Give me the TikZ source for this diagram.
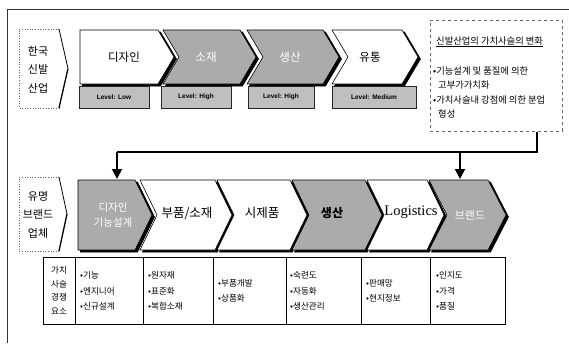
\documentclass[tikz,border=0pt]{standalone}
\usepackage{fontspec}
\setmainfont{Liberation Serif}
\newfontfamily\kr{Noto Sans CJK KR}
\newfontfamily\lvfont{Liberation Sans}
\usetikzlibrary{arrows.meta}
\newcommand\chevF[6]{%
  \pgfmathsetmacro\chvm{(#4+#5)/2}%
  \path[#6] (#1,#4) -- (#2,#4) -- (#3,\chvm) -- (#2,#5) -- (#1,#5) -- cycle;}
\newcommand\chevN[6]{%
  \pgfmathsetmacro\chvm{(#4+#5)/2}\pgfmathsetmacro\chvn{#1+#3-#2}%
  \path[#6] (#1,#4) -- (#2,#4) -- (#3,\chvm) -- (#2,#5) -- (#1,#5) -- (\chvn,\chvm) -- cycle;}
\tikzset{
  shd/.style={fill=black!33, draw=black, line width=0.6pt},
  pln/.style={fill=white, draw=black, line width=0.6pt},
  drop/.style={fill=black, draw=black, line width=0.6pt, shift={(2.5,2)}},
  lvl/.style={fill=black!25, draw=black!85, line width=0.5pt},
  lvtxt/.style={font=\lvfont\bfseries\fontsize{6.5}{7}\selectfont},
  big/.style={font=\kr\fontsize{11.5}{12}\selectfont},
  mid/.style={font=\kr\fontsize{11}{18.5}\selectfont, align=center},
  cell/.style={font=\kr\fontsize{8.6}{15.5}\selectfont, align=left, anchor=west, inner sep=0pt},
  boxt/.style={font=\kr\fontsize{9.3}{10}\selectfont, anchor=west, inner sep=0pt},
  conn/.style={line width=1.8pt},
  arr/.style={line width=1.8pt, -{Triangle[length=10pt,width=10pt]}},
}
\begin{document}
\begin{tikzpicture}[x=1pt,y=-1pt]
\useasboundingbox (0,0) rectangle (569,343);
% outer frame
\draw[black!80, line width=1pt] (569,9) -- (7,9) -- (7,343);

% ---------- top row ----------
\draw[black!60, dotted, line width=0.6pt] (59,29) -- (19,29) -- (19,108) -- (59,108);
\draw[line width=0.8pt] (59,29) -- (68,68.5);
\draw[line width=1.3pt] (68,68.5) -- (59,108);
\node[mid] (kr) at (38,69.5) {한국\\신발\\산업};

\chevF{80}{158}{174}{30}{84}{drop}
\chevF{80}{158}{174}{30}{84}{pln}
\chevN{163}{240}{256}{30}{84}{drop}
\chevN{163}{240}{256}{30}{84}{shd}
\chevN{247}{323}{339}{30}{84}{drop}
\chevN{247}{323}{339}{30}{84}{shd}
\chevN{332}{402}{418}{30}{84}{drop}
\chevN{332}{402}{418}{30}{84}{pln}
\node[big] (t1) at (124,57) {디자인};
\node[big, text=white] (t2) at (206,57) {소재};
\node[big, text=white] (t3) at (290,57) {생산};
\node[big] (t4) at (370,57) {유통};

\draw[lvl] (79,86) rectangle (149,108);
\draw[lvl] (161,86) rectangle (231,108);
\draw[lvl] (248,86) rectangle (314,108);
\draw[lvl] (332,86) rectangle (416,108);
\node[lvtxt] (l1) at (114,97) {Level: Low};
\node[lvtxt] (l2) at (196,97) {Level: High};
\node[lvtxt] (l3) at (281,97) {Level: High};
\node[lvtxt] (l4) at (374,97) {Level: Medium};

% ---------- right box ----------
\node[draw=black!60, dashed, line width=0.6pt, minimum width=132pt, minimum height=111pt, anchor=north west, inner sep=0pt] (vbox) at (430,20) {};
\node[boxt] (bt) at (436,42) {\underline{신발산업의 가치사슬의 변화}};
\node[boxt] (b1) at (433,71) {•기능설계 및 품질에 의한};
\node[boxt] (b2) at (438,85) {고부가가치화};
\node[boxt] (b3) at (433,100) {•가치사슬내 강점에 의한 분업};
\node[boxt] (b4) at (438,114) {형성};

% ---------- arrows ----------
\coordinate (kR) at (537,152);
\coordinate (kM) at (460,152);
\coordinate (kL) at (117,152);
\coordinate (e1) at (117,179);
\coordinate (e6) at (460,179);
\draw[conn] (kR |- vbox.south) -- (kR) -- (kL);
\draw[arr] (kL) -- (e1);
\draw[arr] (kM) -- (e6);

% ---------- bottom row ----------
\draw[black!60, dotted, line width=0.6pt] (59,177) -- (19,177) -- (19,251) -- (59,251);
\draw[line width=0.8pt] (59,177) -- (67,214);
\draw[line width=1.3pt] (67,214) -- (59,251);
\node[mid] (yb) at (38,214.5) {유명\\브랜드\\업체};

\chevF{78}{135}{152}{180}{250}{drop}
\chevF{78}{135}{152}{180}{250}{shd}
\chevN{140}{215}{232}{180}{250}{drop}
\chevN{140}{215}{232}{180}{250}{pln}
\chevN{217}{290}{307}{180}{250}{drop}
\chevN{217}{290}{307}{180}{250}{pln}
\chevN{292}{365}{382}{180}{250}{drop}
\chevN{292}{365}{382}{180}{250}{shd}
\chevN{367}{427}{444}{180}{250}{drop}
\chevN{367}{427}{444}{180}{250}{pln}
\chevN{429}{488}{506}{180}{250}{drop}
\chevN{429}{488}{506}{180}{250}{shd}

\node[font=\kr\fontsize{10.5}{15}\selectfont, text=white, align=center] (c1) at (113,215) {디자인\\기능설계};
\node[font=\kr\fontsize{12.5}{13}\selectfont] (c2) at (187,213) {부품/소재};
\node[font=\kr\fontsize{12.5}{13}\selectfont] (c3) at (262,213) {시제품};
\node[font=\kr\bfseries\fontsize{12}{13}\selectfont] (c4) at (332,213) {생산};
\node[font=\rmfamily\fontsize{14.5}{15}\selectfont] (c5) at (411,212) {Logistics};
\node[font=\kr\fontsize{11}{12}\selectfont, text=white] (c6) at (470,215) {브랜드};

% ---------- table ----------
\draw[line width=0.8pt] (43,257) rectangle (505,324);
\foreach \xx in {75,143,213,286,361,430}{\draw[line width=0.7pt] (\xx,257) -- (\xx,324);}
\node[font=\kr\fontsize{8.6}{13.5}\selectfont, align=center] (g0) at (59,290.5) {가치\\사슬\\경쟁\\요소};
\node[cell] (g1) at (80,291) {•기능\\•엔지니어\\•신규설계};
\node[cell] (g2) at (148,291) {•원자재\\•표준화\\•복합소재};
\node[cell] (g3) at (218,291) {•부품개발\\•상품화};
\node[cell] (g4) at (290,291) {•숙련도\\•자동화\\•생산관리};
\node[cell] (g5) at (366,291) {•판매망\\•현지정보};
\node[cell] (g6) at (436,291) {•인지도\\•가격\\•품질};
\end{tikzpicture}
\end{document}
